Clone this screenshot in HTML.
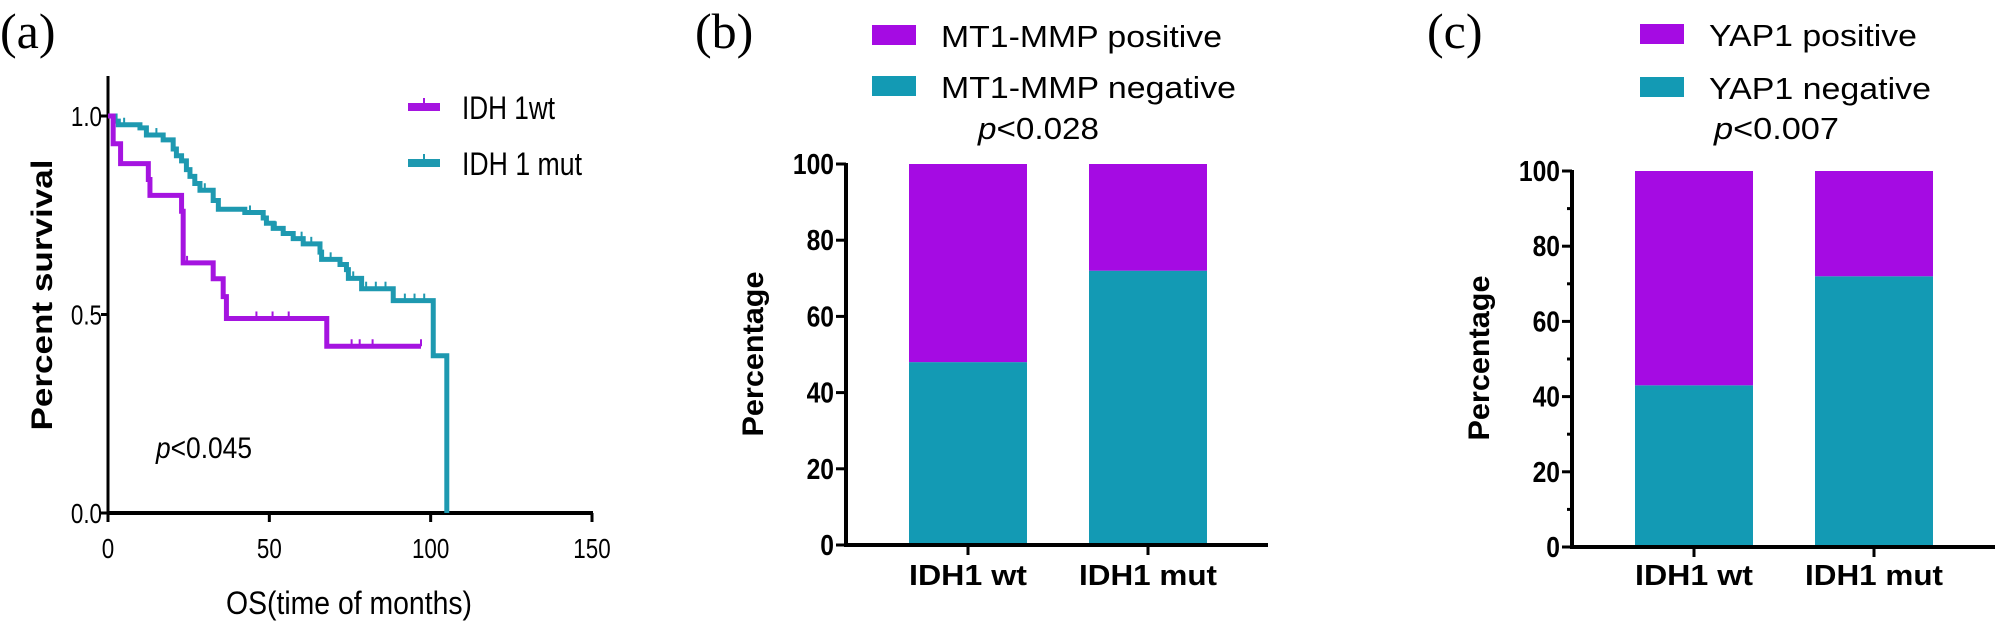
<!DOCTYPE html>
<html><head><meta charset="utf-8"><style>
html,body{margin:0;padding:0;background:#fff;}
svg{display:block;font-family:"Liberation Sans",sans-serif;}
</style></head><body>
<svg id="fig" width="2000" height="621" viewBox="0 0 2000 621">
<g id="pa"></g>
<g id="pb"></g>
<g id="pc"></g>
</svg>
<script>
// Panel a data
const wtTimes = [0, 1.6, 3.9, 12.5, 13, 22.8, 23.3, 32.6, 35.7, 36.7, 67.8, 97];
const wtSurv = [1.0, 0.93, 0.88, 0.84, 0.80, 0.76, 0.63, 0.59, 0.545, 0.49, 0.42, 0.42];
const wtCensor = [24.5, 46, 51, 56, 75.5, 78, 82, 97];
const mutTimes = [0, 2.2, 3.2, 9.9, 11.9, 17.1, 20.2, 21.2, 22.8, 24.3, 25.4, 26.9, 28.5, 32.6, 34.2, 42.4, 48.1, 49.1, 51.2, 54.3, 57.4, 60.5, 65.7, 66.2, 71.9, 73.9, 74.5, 78.6, 88.4, 100.8, 105];
const mutSurv = [1.0, 0.987, 0.978, 0.97, 0.952, 0.94, 0.917, 0.9, 0.887, 0.865, 0.848, 0.83, 0.813, 0.787, 0.765, 0.757, 0.743, 0.73, 0.717, 0.704, 0.691, 0.678, 0.657, 0.639, 0.626, 0.613, 0.591, 0.565, 0.535, 0.396, 0.0];
const mutCensor = [5, 15, 30, 44, 52, 60, 63, 69, 76, 80, 83, 86, 92, 95, 98];
const xTicksA = [0, 50, 100, 150];
const yTicksA = ["0.0", "0.5", "1.0"];
// Panel b data
const catsB = ["IDH1 wt", "IDH1 mut"];
const negB = [48, 72];
const posB = [52, 28];
// Panel c data
const catsC = ["IDH1 wt", "IDH1 mut"];
const negC = [43, 72];
const posC = [57, 28];
const yTicksBar = [0, 20, 40, 60, 80, 100];

const NS = "http://www.w3.org/2000/svg";
const MAG = "#a50be3", TEAL = "#139ab4", CMAG = "#a514e0", CTEAL = "#1e99b0";
function mk(parent, tag, attrs, text) {
  const e = document.createElementNS(NS, tag);
  for (const k in attrs) e.setAttribute(k, attrs[k]);
  if (text !== undefined) e.textContent = text;
  parent.appendChild(e);
  return e;
}

// ---------- Panel a ----------
const pa = document.getElementById("pa");
const ax0 = 108, ax1 = 592, ay0 = 513, ay1 = 116;
const xA = t => ax0 + t / 150 * (ax1 - ax0);
const yA = v => ay0 - v * (ay0 - ay1);
let e;
e = mk(pa, "text", {x: 0, y: 48, "font-family": "Liberation Serif, serif", "font-size": 50}, "(a)");


e = mk(pa, "line", {x1: ax0, y1: 76, x2: ax0, y2: ay0 + 2, stroke: "#000", "stroke-width": 3});


e = mk(pa, "line", {x1: ax0 - 1, y1: ay0, x2: ax1 + 1, y2: ay0, stroke: "#000", "stroke-width": 4});


xTicksA.forEach(t => {
  const l = mk(pa, "line", {x1: xA(t), y1: ay0, x2: xA(t), y2: ay0 + 9, stroke: "#000", "stroke-width": 3});
  
  
  const tx = mk(pa, "text", {x: xA(t), y: 558, "text-anchor": "middle", "font-size": 28, transform: `translate(${xA(t)},0) scale(0.8,1) translate(${-xA(t)},0)`}, String(t));
  
  
});
yTicksA.forEach(s => {
  const v = parseFloat(s);
  const l = mk(pa, "line", {x1: ax0 - 7, y1: yA(v), x2: ax0, y2: yA(v), stroke: "#000", "stroke-width": 3});
  
  
  const tx = mk(pa, "text", {x: 102, y: yA(v) + 10, "text-anchor": "end", "font-size": 28, transform: `translate(102,0) scale(0.8,1) translate(-102,0)`}, s);
  
  
});
e = mk(pa, "text", {x: 0, y: 0, "text-anchor": "middle", "font-size": 30, "font-weight": "bold", transform: "translate(52,295) rotate(-90)", textLength: 271, lengthAdjust: "spacingAndGlyphs"}, "Percent survival");


e = mk(pa, "text", {x: 226, y: 614, "font-size": 32, textLength: 246, lengthAdjust: "spacingAndGlyphs"}, "OS(time of months)");


e = mk(pa, "text", {x: 156, y: 458, "font-size": 30, textLength: 96, lengthAdjust: "spacingAndGlyphs"});
e.innerHTML = '<tspan font-style="italic">p</tspan>&lt;0.045';



function stepPath(times, surv) {
  let d = `M${xA(times[0])},${yA(surv[0])}`;
  for (let i = 1; i < times.length; i++) {
    d += ` H${xA(times[i])} V${yA(surv[i])}`;
  }
  return d;
}
function survAt(times, surv, t) {
  let v = surv[0];
  for (let i = 0; i < times.length; i++) if (times[i] <= t) v = surv[i];
  return v;
}
e = mk(pa, "path", {d: stepPath(mutTimes, mutSurv), fill: "none", stroke: CTEAL, "stroke-width": 5});


e = mk(pa, "path", {d: stepPath(wtTimes, wtSurv), fill: "none", stroke: CMAG, "stroke-width": 5});


mutCensor.forEach(t => {
  const v = survAt(mutTimes, mutSurv, t);
  const c = mk(pa, "line", {x1: xA(t), y1: yA(v) - 7, x2: xA(t), y2: yA(v), stroke: CTEAL, "stroke-width": 2});
  
  
});
wtCensor.forEach(t => {
  const v = survAt(wtTimes, wtSurv, t);
  const c = mk(pa, "line", {x1: xA(t), y1: yA(v) - 7, x2: xA(t), y2: yA(v), stroke: CMAG, "stroke-width": 2});
  
  
});
// legend a
[[107, CMAG, "IDH 1wt", 93], [163, CTEAL, "IDH 1 mut", 120]].forEach(([y, col, lbl, w]) => {
  const g = mk(pa, "g", {});
  
  
  mk(g, "line", {x1: 408, y1: y, x2: 440, y2: y, stroke: col, "stroke-width": 8});
  mk(g, "line", {x1: 424, y1: y - 9, x2: 424, y2: y, stroke: col, "stroke-width": 2});
  mk(g, "text", {x: 462, y: y + 12, "font-size": 32, textLength: w, lengthAdjust: "spacingAndGlyphs"}, lbl);
});

// ---------- Bar panels ----------
function barPanel(root, o) {
  const yS = v => o.y0 - v / 100 * (o.y0 - o.y100);
  let e;
  e = mk(root, "text", {x: o.lx, y: 48, "font-family": "Liberation Serif, serif", "font-size": 50}, o.label);
  
  
  o.cats.forEach((c, i) => {
    const x = o.barX[i];
    const r1 = mk(root, "rect", {x: x, y: yS(o.neg[i]), width: o.bw, height: yS(0) - yS(o.neg[i]), fill: TEAL});
    
    
    const r2 = mk(root, "rect", {x: x, y: yS(o.neg[i] + o.pos[i]), width: o.bw, height: yS(o.neg[i]) - yS(o.neg[i] + o.pos[i]), fill: MAG});
    
    
    const cx = x + o.bw / 2;
    const t = mk(root, "line", {x1: cx, y1: o.y0, x2: cx, y2: o.y0 + 10, stroke: "#000", "stroke-width": 3});
    
    
    const tl = mk(root, "text", {x: cx, y: 585, "text-anchor": "middle", "font-size": 29, "font-weight": "bold", textLength: c.length > 7 ? 138 : 118, lengthAdjust: "spacingAndGlyphs"}, c);
    
    
  });
  e = mk(root, "line", {x1: o.ax, y1: o.y100 - 1, x2: o.ax, y2: o.y0 + 2, stroke: "#000", "stroke-width": 4});
  
  
  e = mk(root, "line", {x1: o.ax - 2, y1: o.y0, x2: o.xEnd, y2: o.y0, stroke: "#000", "stroke-width": 4});
  
  
  yTicksBar.forEach(v => {
    const l = mk(root, "line", {x1: o.ax - 10, y1: yS(v), x2: o.ax, y2: yS(v), stroke: "#000", "stroke-width": 3});
    
    
    const tx = mk(root, "text", {x: o.ax - 12, y: yS(v) + 10, "text-anchor": "end", "font-size": 29, "font-weight": "bold", transform: `translate(${o.ax - 12},0) scale(0.85,1) translate(${-(o.ax - 12)},0)`}, String(v));
    
    
    if (o.minor && v < 100) {
      const m = mk(root, "line", {x1: o.ax - 5, y1: yS(v + 10), x2: o.ax, y2: yS(v + 10), stroke: "#000", "stroke-width": 3});
      
      
    }
  });
  e = mk(root, "text", {x: 0, y: 0, "text-anchor": "middle", "font-size": 30, "font-weight": "bold", transform: `translate(${o.ptx},${o.pty}) rotate(-90)`, textLength: 165, lengthAdjust: "spacingAndGlyphs"}, "Percentage");
  
  
  o.legend.forEach(([y, col, lbl, w]) => {
    const g = mk(root, "g", {});
    
    
    mk(g, "rect", {x: o.sx, y: y - 10, width: 44, height: 20, fill: col});
    mk(g, "text", {x: o.tx, y: y + 12, "font-size": 31, textLength: w, lengthAdjust: "spacingAndGlyphs"}, lbl);
  });
  e = mk(root, "text", {x: o.px, y: 139, "font-size": 31, textLength: o.pw, lengthAdjust: "spacingAndGlyphs"});
  e.innerHTML = '<tspan font-style="italic">p</tspan>&lt;' + o.p;
  
  
}
barPanel(document.getElementById("pb"), {
  label: "(b)", lx: 695, ax: 846, y0: 545, y100: 164, xEnd: 1268, barX: [909, 1089], bw: 118,
  cats: catsB, neg: negB, pos: posB, minor: false, ptx: 763, pty: 354,
  sx: 872, tx: 941, legend: [[35, MAG, "MT1-MMP positive", 281], [86, TEAL, "MT1-MMP negative", 295]],
  px: 978, pw: 121, p: "0.028"
});
barPanel(document.getElementById("pc"), {
  label: "(c)", lx: 1427, ax: 1572, y0: 547, y100: 171, xEnd: 1995, barX: [1635, 1815], bw: 118,
  cats: catsC, neg: negC, pos: posC, minor: true, ptx: 1489, pty: 358,
  sx: 1640, tx: 1709, legend: [[34, MAG, "YAP1 positive", 208], [87, TEAL, "YAP1 negative", 222]],
  px: 1714, pw: 125, p: "0.007"
});
</script>
</body></html>
